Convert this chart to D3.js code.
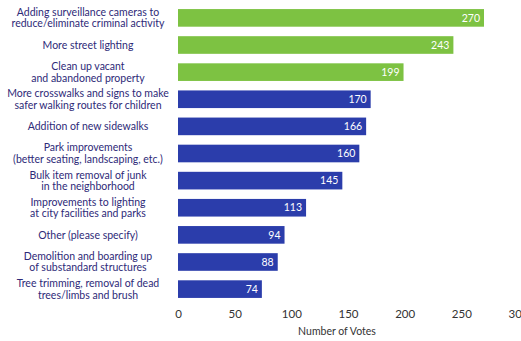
<!DOCTYPE html>
<meta charset="utf-8">
<style>
body { margin: 0; background: #fff; }
text { font-family: Lato, "Open Sans", sans-serif; }
.label { fill: #2e2a78; font-size: 10.5px; }
.value { fill: #fff; font-size: 10.5px; }
.tick text { fill: #333; font-size: 11.5px; }
.axis-title { fill: #333; font-size: 10.5px; }
</style>
<body>
<script src="https://cdn.jsdelivr.net/npm/d3@7"></script>
<script>
var width = 521,
    height = 341;

// one entry per bar, top to bottom; labels split on lines
var categories = [
  ["Adding surveillance cameras to", "reduce/eliminate criminal activity"],
  ["More street lighting"],
  ["Clean up vacant", "and abandoned property"],
  ["More crosswalks and signs to make", "safer walking routes for children"],
  ["Addition of new sidewalks"],
  ["Park improvements", "(better seating, landscaping, etc.)"],
  ["Bulk item removal of junk", "in the neighborhood"],
  ["Improvements to lighting", "at city facilities and parks"],
  ["Other (please specify)"],
  ["Demolition and boarding up", "of substandard structures"],
  ["Tree trimming, removal of dead", "trees/limbs and brush"]
];
var votes = [270, 243, 199, 170, 166, 160, 145, 113, 94, 88, 74];
var topThree = 3; // first bars are highlighted green
var xTicks = [0, 50, 100, 150, 200, 250, 300];

var green = "#7dc242",
    blue = "#2b3dab";

var x = d3.scaleLinear().domain([0, 300]).range([178, 518]);
var y = d3.scaleBand()
    .domain(d3.range(votes.length))
    .range([5, 302])
    .paddingInner(0.35)
    .paddingOuter(0.15);

var svg = d3.select("body").append("svg")
    .attr("width", width)
    .attr("height", height);

var rows = svg.selectAll(".row")
    .data(votes)
  .enter().append("g")
    .attr("class", "row");

rows.append("rect")
    .attr("x", x(0))
    .attr("y", function(d, i) { return y(i); })
    .attr("width", function(d) { return x(d) - x(0); })
    .attr("height", y.bandwidth())
    .attr("fill", function(d, i) { return i < topThree ? green : blue; });

rows.append("text")
    .attr("class", "value")
    .attr("x", function(d) { return x(d) - 4; })
    .attr("y", function(d, i) { return y(i) + y.bandwidth() / 2; })
    .attr("dy", "0.35em")
    .attr("text-anchor", "end")
    .text(function(d) { return d; });

rows.append("text")
    .attr("class", "label")
    .attr("text-anchor", "middle")
    .attr("y", function(d, i) { return y(i) + y.bandwidth() / 2; })
    .each(function(d, i) {
      var lines = categories[i];
      var t = d3.select(this);
      lines.forEach(function(line, j) {
        t.append("tspan")
            .attr("x", 88)
            .attr("dy", j === 0 ? (0.35 - (lines.length - 1) * 0.55) + "em" : "1.1em")
            .text(line);
      });
    });

var axis = svg.append("g")
    .attr("transform", "translate(0,302)")
    .call(d3.axisBottom(x).tickValues(xTicks).tickSize(0).tickPadding(8));
axis.select(".domain").remove();

svg.append("text")
    .attr("class", "axis-title")
    .attr("x", 337)
    .attr("y", 335)
    .attr("text-anchor", "middle")
    .text("Number of Votes");
</script>
</body>
